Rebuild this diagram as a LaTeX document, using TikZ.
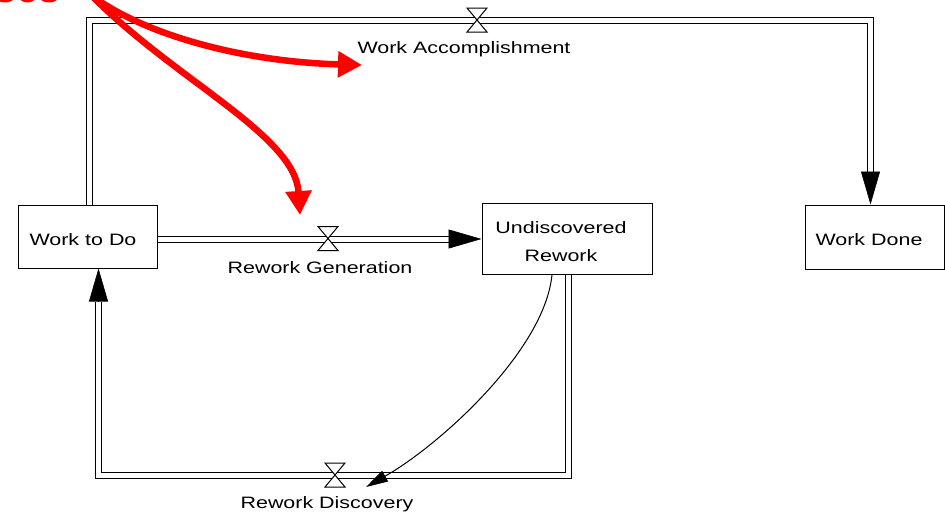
\documentclass[tikz,border=0pt]{standalone}
\usepackage{fontspec}
\setmainfont{Liberation Sans}
\newfontfamily\wfont[FakeStretch=1.3]{Liberation Sans}
\usetikzlibrary{arrows.meta,calc}
\begin{document}
\begin{tikzpicture}[x=1pt,y=-1pt,
  box/.style={draw, line width=1pt, inner sep=0pt, align=center},
  pipe/.style={draw, line width=1pt, double=white, double distance=5pt, line join=miter},
  flowtip/.style={line width=0.6pt, -{Triangle[length=33pt,width=19pt]}},
  valveline/.style={draw, fill=white, line width=1pt, line join=miter},
  valve/.pic={\draw[valveline] (-10,-12) -- (10,-12) -- (-10,12) -- (10,12) -- cycle;},
  lbl/.style={font=\wfont\fontsize{16.5}{19}\selectfont, inner sep=0pt},
  redarr/.style={red, line width=6.5pt, -{Triangle[length=24pt,width=25pt]}},
  info/.style={line width=1pt, -{Triangle[length=22pt,width=12pt]}}
]
\useasboundingbox (0,0) rectangle (945,515);
\fill[white] (0,0) rectangle (945,515);

% partially visible red text at top-left
\begin{scope}
\clip (0,0) rectangle (945,515);
\node[red, font=\bfseries\fontsize{40}{40}\selectfont, anchor=base west, inner sep=0pt] (rt) at (-6,2) {ses};
\end{scope}

% stocks
\node[box, minimum width=139pt, minimum height=63pt] (wtd) at (87.5,236.5) {};
\node[lbl] (wtdt) at (83,240) {Work to Do};
\node[box, minimum width=170pt, minimum height=71pt] (ur) at (567,238.5) {};
\node[lbl, align=center, font=\wfont\fontsize{16.5}{28}\selectfont] (urt) at (561,242) {Undiscovered\\Rework};
\node[box, minimum width=139pt, minimum height=64pt] (wd) at (874.5,237) {};
\node[lbl] (wdt) at (869,240) {Work Done};

% coordinates
\coordinate (a1) at (89.5,20);
\coordinate (a2) at (870.5,20);
\coordinate (a3) at (870.5,172);
\coordinate (g1) at (449,239);
\coordinate (d1) at (568,475);
\coordinate (d2) at (98.5,475);
\coordinate (d3) at (98.5,302);

% flows
\draw[pipe] (wtd.north -| a1) -- (a1) -- (a2) -- (a3);
\draw[flowtip] (a3) -- (a3 |- wd.north);
\draw[pipe] (wtd.east |- g1) -- (g1);
\draw[flowtip] (g1) -- (g1 -| ur.west);
\draw[pipe] (ur.south -| d1) -- (d1) -- (d2) -- (d3);
\draw[flowtip] (d3) -- (d3 |- wtd.south);

% valves
\pic at (477,20) {valve};
\pic at (328,238.5) {valve};
\pic at (335,475) {valve};

% flow labels
\node[lbl] (l1) at (464,49) {Work Accomplishment};
\node[lbl] (l2) at (320,268) {Rework Generation};
\node[lbl] (l3) at (327,504) {Rework Discovery};

% information link
\coordinate (i1) at (366,487);
\draw[info] ($(ur.south)+(-15,0)$) .. controls (545,350) and (440,445) .. (i1);

% red arrows
\coordinate (r0) at (92,-4);
\coordinate (r1) at (362,65);
\coordinate (r2) at (300,215);
\draw[redarr] (r0) .. controls (150,38) and (250,62) .. (r1);
\draw[redarr] (r0) .. controls (175,80) and (295,135) .. (r2);
\end{tikzpicture}
\end{document}
